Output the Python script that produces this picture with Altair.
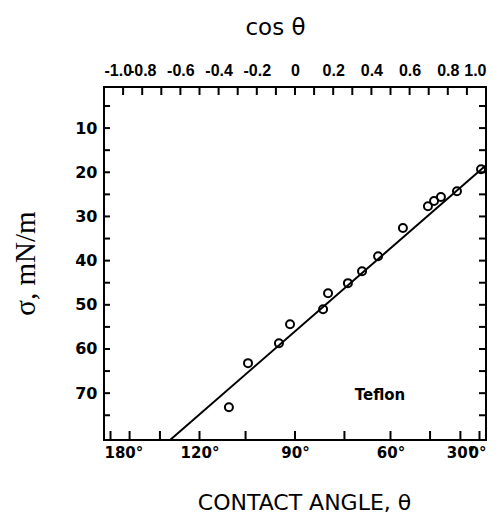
import altair as alt
import pandas as pd
import numpy as np

# ---- data ----
cos_theta = [-0.346, -0.246, -0.084, -0.026, 0.147, 0.173, 0.277, 0.351,
             0.435, 0.565, 0.696, 0.728, 0.764, 0.848, 0.974]
sigma = [73.2, 63.2, 58.7, 54.4, 51.0, 47.4, 45.1, 42.4,
         39.0, 32.6, 27.7, 26.5, 25.6, 24.3, 19.3]

fit_cos = [-0.654, 1.0]
fit_sigma = [80.6, 18.4]

label_text = ["Teflon"]
label_cos = [0.445]
label_sigma = [70.4]

cos_tick_values = [round(-1 + 0.1 * i, 1) for i in range(21)]
cos_label_values = [round(-1 + 0.2 * i, 1) for i in range(11)]
angle_tick_degrees = [180, 165, 150, 135, 120, 105, 90, 75, 60, 45, 30, 15, 0]
angle_label_degrees = [180, 120, 90, 60, 30, 0]
sigma_tick_values = [5, 10, 15, 20, 25, 30, 35, 40, 45, 50, 55, 60, 65, 70, 75]
sigma_label_values = [10, 20, 30, 40, 50, 60, 70]

X_DOMAIN = [-1.0, 1.0]
Y_DOMAIN = [0.7, 80.6]

W, H = 382, 353

angle_tick_cos = [float(np.cos(np.radians(d))) for d in angle_tick_degrees]
angle_label_cos = [float(np.cos(np.radians(d))) for d in angle_label_degrees]

# one table: data points plus frame-tick anchors (drawn as inward segment symbols)
frames = [
    pd.DataFrame({"cos": cos_theta, "sigma": sigma, "kind": "point"}),
    pd.DataFrame({"cos": cos_tick_values, "sigma": Y_DOMAIN[0], "kind": "top"}),
    pd.DataFrame({"cos": angle_tick_cos, "sigma": Y_DOMAIN[1], "kind": "bottom"}),
    pd.DataFrame({"cos": X_DOMAIN[0], "sigma": sigma_tick_values, "kind": "left"}),
    pd.DataFrame({"cos": X_DOMAIN[1], "sigma": sigma_tick_values, "kind": "right"}),
]
marks_df = pd.concat(frames, ignore_index=True)
fit = pd.DataFrame({"cos": fit_cos, "sigma": fit_sigma})
lab = pd.DataFrame({"cos": label_cos, "sigma": label_sigma, "text": label_text})

# symbol per kind: open circle for data, inward segments for frame ticks
KINDS = ["point", "top", "bottom", "left", "right"]
SHAPES = ["circle", "M0,0L0,2", "M0,0L0,-2.25", "M0,0L1.5,0", "M0,0L-1.75,0"]

xs = alt.Scale(domain=X_DOMAIN, nice=False, zero=False)
ys = alt.Scale(domain=Y_DOMAIN, reverse=True, nice=False, zero=False)

LBL = dict(labelFontWeight="bold", labelColor="black", labelOverlap=False)

# Layer 1: points + frame ticks, top labels (cos), left labels (sigma)
points = alt.Chart(marks_df).mark_point(filled=False, color="black",
                                        size=64, strokeWidth=2, opacity=1).encode(
    x=alt.X("cos:Q", scale=xs, axis=alt.Axis(
        orient="top", values=cos_label_values, ticks=False, domain=False, grid=False,
        labelExpr="datum.value == 0 ? '0' : (datum.value < 0 ? '-' : '') + format(abs(datum.value), '.1f')",
        labelFont="Liberation Sans", labelFontSize=16, labelPadding=9, **LBL,
        title="cos θ", titleFont="DejaVu Sans", titleFontSize=23, titleFontWeight="normal",
        titleColor="black", titleX=171, titleY=-60, titleBaseline="middle", titleAlign="center")),
    y=alt.Y("sigma:Q", scale=ys, axis=alt.Axis(
        orient="left", values=sigma_label_values, ticks=False, domain=False, grid=False,
        labelFont="DejaVu Sans", labelFontSize=16, labelPadding=7, **LBL,
        title="σ, mN/m", titleFont="Liberation Serif", titleFontSize=29,
        titleFontWeight="normal", titleColor="black", titleAngle=270,
        titleX=-79, titleY=176, titleBaseline="middle", titleAlign="center")),
    shape=alt.Shape("kind:N", scale=alt.Scale(domain=KINDS, range=SHAPES), legend=None),
)

# Layer 2: fit line, bottom labels (angle)
line = alt.Chart(fit).mark_line(color="black", strokeWidth=2).encode(
    x=alt.X("cos:Q", scale=xs, axis=alt.Axis(
        orient="bottom", values=angle_label_cos, ticks=False, domain=False, grid=False,
        labelExpr="round(acos(clamp(datum.value, -1, 1)) * 180 / PI) + '°'",
        labelFont="DejaVu Sans", labelFontSize=15, labelPadding=5, **LBL,
        title="CONTACT ANGLE, θ", titleFont="DejaVu Sans", titleFontSize=22,
        titleFontWeight="normal", titleColor="black",
        titleX=200, titleY=62, titleBaseline="middle", titleAlign="center")),
    y=alt.Y("sigma:Q", scale=ys, axis=None),
)

# Layer 3: "Teflon" label
text = alt.Chart(lab).mark_text(font="DejaVu Sans", fontWeight="bold", fontSize=15,
                                color="black").encode(
    x=alt.X("cos:Q", scale=xs, axis=None),
    y=alt.Y("sigma:Q", scale=ys, axis=None),
    text="text:N",
)

chart = alt.layer(points, line, text).resolve_axis(
    x="independent", y="independent"
).properties(
    width=W, height=H,
    autosize=alt.AutoSizeParams(type="none"),
    padding={"left": 96, "top": 79, "right": 4, "bottom": 76},
    background="white",
).configure_view(stroke="black", strokeWidth=2)

chart.save("out.html", embed_options={"renderer": "svg", "actions": False})
